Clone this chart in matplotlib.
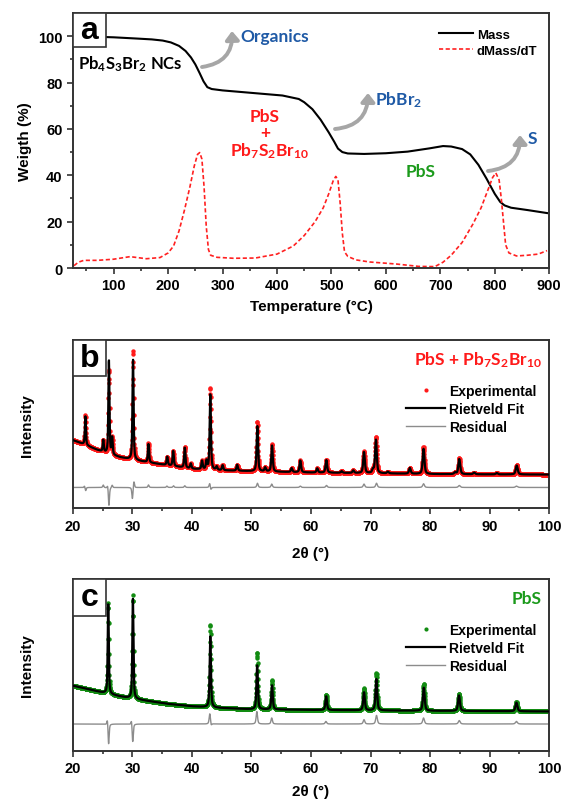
import numpy as np
import matplotlib
matplotlib.use("Agg")
import matplotlib.pyplot as plt
from matplotlib.patches import FancyArrowPatch, Rectangle
from matplotlib.lines import Line2D

plt.rcParams['font.family'] = ['Liberation Sans', 'DejaVu Sans']
plt.rcParams['font.weight'] = 'bold'
plt.rcParams['mathtext.fontset'] = 'custom'
plt.rcParams['mathtext.rm'] = 'Lato:bold'
plt.rcParams['mathtext.default'] = 'rm'

# ---- panel a: TGA ----
mass_T = [30, 60, 100, 140, 170, 190, 205, 220, 232, 242, 250, 258, 265, 272, 280, 300, 340, 380,
          410, 440, 450, 465, 480, 495, 505, 512, 520, 530, 560, 600, 640, 680, 705, 720, 740,
          755, 770, 785, 800, 810, 818, 830, 860, 896]
mass_w = [100, 99.8, 99.5, 99, 98.6, 98.1, 97.3, 95.8, 93.6, 90.8, 87.8, 84, 80.5, 78, 77.2, 76.6,
          75.8, 75.0, 74.4, 72.9, 71.5, 68.5, 64, 58.5, 54.5, 51.5, 50, 49.4, 49.2, 49.5, 50.2,
          51.6, 52.6, 52.4, 51.3, 49, 44.5, 38.5, 32, 28.5, 27, 26, 25, 23.7]

dm_T = [27, 35, 45, 70, 100, 130, 160, 185, 200, 210, 220, 230, 240, 248, 254, 258, 262, 266,
        270, 274, 278, 290, 320, 360, 400, 430, 450, 470, 485, 495, 503, 508, 512, 516, 520,
        524, 530, 545, 570, 620, 660, 690, 705, 720, 740, 760, 775, 788, 796, 802, 808, 812,
        816, 820, 826, 840, 860, 880, 896]
dm_v = [1, 2.5, 3.3, 3.3, 3.8, 4.9, 4, 4.5, 6.5, 9.5, 16, 25, 35, 44, 49, 49.8, 47, 35,
        18, 8, 5.5, 4.6, 4.2, 4.3, 6, 9.5, 14, 20, 26, 32, 37.5, 39.5, 38, 28, 15,
        7, 5, 3.5, 2.6, 1.7, 0.7, 0.6, 2.5, 5.5, 11, 19, 26, 34, 39, 41, 38, 30,
        20, 10, 6.5, 5.2, 5.5, 6, 7.5]

# ---- panel b: PbS + Pb7S2Br10 ----
bg_b_x = [20, 22, 24, 26, 28, 30, 33, 36, 40, 45, 50, 60, 70, 80, 90, 100]
bg_b_y = [40.5, 37.8, 34.8, 32.2, 30.2, 28.8, 27.0, 25.5, 23.4, 22.5, 22.0, 21.2, 20.8, 20.3, 20.1, 20.0]
pk_b_pos = [22.1, 25.1, 26.05, 26.6, 30.1, 32.7, 35.85, 36.85, 38.8, 39.8, 41.7, 42.45, 43.08,
            44.15, 45.15, 47.6, 50.98, 52.3, 53.45, 56.75, 58.2, 61.05, 62.57, 65.15, 67.1,
            68.9, 70.4, 70.9, 72.9, 76.6, 78.9, 84.2, 84.9, 87.4, 91.2, 94.55]
pk_b_obs = [18, 7, 50, 10, 65, 11.5, 5, 9, 12.5, 3, 5, 5, 49, 2, 3, 3.5, 29.6, 2.3, 16.5, 2.3,
            7, 2.5, 7.8, 1, 1.5, 13, 2, 21.8, 1, 3.4, 16, 1, 9.5, 1, 0.8, 5.5]
pk_b_fit = [17, 7, 56, 10, 60, 11, 5, 9, 12, 3, 5, 5, 45, 2, 3, 3.5, 27, 2.3, 15.5, 2.3,
            7, 2.5, 7.5, 1, 1.5, 12.5, 2, 20, 1, 3.4, 15, 1, 9, 1, 0.8, 5.3]
res_b_base = 12.3
res_b_pos = [21.95, 22.15, 25.1, 25.85, 26.05, 26.6, 30.0, 30.25, 32.7, 35.8, 36.9, 38.8,
             43.0, 43.15, 51.0, 53.4, 58.2, 62.6, 68.9, 71.0, 78.9, 84.9, 94.5]
res_b_amp = [1, -2, 1.5, 2, -11, 1.5, -7, 4, 1.5, 0.8, 1, 1, 3, -2, 2.5, 2, 0.8, 1.2, 2,
             2.5, 2.2, 1.2, 0.8]

# ---- panel c: PbS ----
bg_c_x = [20, 22, 24, 26, 28, 30, 33, 36, 40, 45, 50, 60, 70, 80, 90, 100]
bg_c_y = [38, 36.4, 34.8, 33.2, 31.7, 30.5, 28.9, 27.4, 26.0, 25.0, 24.3, 23.9, 23.6, 23.4, 23.2, 23.0]
pk_c_pos = [25.94, 30.08, 43.08, 50.95, 53.45, 62.55, 68.9, 70.97, 78.94, 84.85, 94.5]
pk_c_obs = [53, 60, 48, 33, 17.3, 9, 12.8, 22, 15.7, 10, 5.3]
pk_c_fit = [52, 58, 41.5, 25.6, 14, 8, 10.5, 18.3, 13.4, 9, 5]
res_c_base = 15.7
res_c_pos = [25.8, 26.0, 29.85, 30.05, 43.0, 43.2, 50.9, 53.4, 62.5, 68.9, 71.0, 78.9, 84.9, 94.5]
res_c_amp = [3.5, -12, 3, -10.7, 6.3, -1.5, 7.2, 3.5, 1.5, 2.5, 5, 3.5, 2, 1.5]

tth = np.arange(20, 100.001, 0.03)


def peaks(x, pos, amp):
    y = np.zeros_like(x)
    for p, h in zip(pos, amp):
        w = 0.2 + 0.0025 * (p - 20)
        g = 0.5 * w
        y += h * (0.55 * g ** 2 / ((x - p) ** 2 + g ** 2)
                  + 0.45 * np.exp(-4 * np.log(2) * (x - p) ** 2 / w ** 2))
    return y


edge = '#333333'
fig = plt.figure(figsize=(5.65, 8.03), dpi=100)


def style(ax):
    for s in ax.spines.values():
        s.set_linewidth(1.4)
        s.set_color(edge)
    ax.tick_params(which='both', direction='out', width=1.2, color=edge, labelsize=10.5)
    ax.tick_params(which='major', length=4)
    ax.tick_params(which='minor', length=2.5)
    for lab in ax.get_xticklabels() + ax.get_yticklabels():
        lab.set_fontweight('bold')


def letter(ax, s, h):
    ax.add_patch(Rectangle((0, 1 - h), 0.069, h, transform=ax.transAxes, fill=True,
                           facecolor='white', edgecolor=edge, lw=1.2, zorder=5))
    ax.text(0.0345, 1 - h / 2, s, transform=ax.transAxes, ha='center', va='center',
            fontsize=23, fontweight='bold', zorder=6)


def arrow(ax, p0, p1):
    ax.add_patch(FancyArrowPatch(p0, p1, transform=fig.transFigure, connectionstyle='arc3,rad=0.45',
                                 arrowstyle='-|>,head_width=4,head_length=5', color='#a6a6a6',
                                 lw=2.8, shrinkA=0, shrinkB=0, zorder=4))


def fx(px):
    return px / 565


def fy(py):
    return 1 - py / 803


# ---- panel a ----
ax = fig.add_axes([0.129, 0.665, 0.843, 0.3176])
ax.plot(mass_T, mass_w, color='black', lw=1.5)
ax.plot(dm_T, dm_v, color='#ff2020', lw=1.2, dashes=(2.5, 1.5))
ax.set_xlim(25, 900)
ax.set_ylim(0, 110)
ax.set_xticks(range(100, 901, 100))
ax.set_xticks(range(50, 901, 50), minor=True)
ax.set_yticks(range(0, 101, 20))
ax.set_yticks(range(10, 101, 20), minor=True)
ax.set_xlabel('Temperature (°C)', fontsize=11, fontweight='bold', labelpad=5)
ax.set_ylabel('Weigth (%)', fontsize=11, fontweight='bold', labelpad=4)
style(ax)
letter(ax, 'a', 0.133)
ax.legend(handles=[Line2D([], [], color='black', lw=1.5),
                   Line2D([], [], color='#ff2020', lw=1.2, dashes=(2.5, 1.5))],
          labels=['Mass', 'dMass/dT'], loc='upper right', bbox_to_anchor=(1.0, 0.985),
          frameon=False, handlelength=2.6, handletextpad=0.3, labelspacing=0.3,
          prop={'weight': 'bold', 'size': 9.5})
ann = dict(fontsize=12.5, fontweight='bold', family='Lato')
fig.text(fx(78), fy(64), r'Pb$_4$S$_3$Br$_2$ NCs', color='black', va='center', ha='left',
         fontsize=12, fontweight='bold', family='Lato')
fig.text(fx(240), fy(37), 'Organics', color='#1f5aa6', va='center', ha='left', **ann)
fig.text(fx(375), fy(100), r'PbBr$_2$', color='#1f5aa6', va='center', ha='left', **ann)
fig.text(fx(528), fy(139), 'S', color='#1f5aa6', va='center', ha='left', **ann)
fig.text(fx(265), fy(117), 'PbS', color='#ff1a1a', va='center', ha='center', **ann)
fig.text(fx(265), fy(133), '+', color='#ff1a1a', va='center', ha='center', **ann)
fig.text(fx(270), fy(151), r'Pb$_7$S$_2$Br$_{10}$', color='#ff1a1a', va='center', ha='center', **ann)
fig.text(fx(421), fy(172), 'PbS', color='#1b9a1b', va='center', ha='center', **ann)
arrow(ax, (fx(202), fy(68)), (fx(232), fy(32)))
arrow(ax, (fx(335), fy(130)), (fx(368), fy(94)))
arrow(ax, (fx(488), fy(172)), (fx(520), fy(136)))


def xrd(rect, bg_x, bg_y, pos, obs, fit, rbase, rpos, ramp, dot, lab, labcol, let, xpad):
    ax = fig.add_axes(rect)
    bg = np.interp(tth, bg_x, bg_y)
    y_obs = bg + peaks(tth, pos, obs)
    y_fit = bg + peaks(tth, pos, fit)
    y_res = rbase + peaks(tth, rpos, ramp)
    ax.plot(tth, y_obs, 'o', ms=3.2, mew=0, color=dot, zorder=2)
    ax.plot(tth, y_fit, color='black', lw=1.6, zorder=3)
    ax.plot(tth, y_res, color='#8c8c8c', lw=1.0, zorder=2)
    ax.set_xlim(20, 100)
    ax.set_ylim(0, 100)
    ax.set_xticks(range(20, 101, 10))
    ax.set_xticks(range(25, 100, 10), minor=True)
    ax.set_yticks([])
    ax.set_xlabel('2θ (°)', fontsize=11, fontweight='bold', labelpad=xpad)
    ax.set_ylabel('Intensity', fontsize=11, fontweight='bold', labelpad=28)
    style(ax)
    letter(ax, let, 0.214)
    ax.text(0.985, 0.89, lab, transform=ax.transAxes, ha='right', va='center', color=labcol,
            fontsize=12.5, fontweight='bold', family='Lato')
    ax.legend(handles=[Line2D([], [], ls='none', marker='o', ms=3, mew=0, color=dot),
                       Line2D([], [], color='black', lw=1.6),
                       Line2D([], [], color='#8c8c8c', lw=1.0)],
              labels=['Experimental', 'Rietveld Fit', 'Residual'], loc='upper right',
              bbox_to_anchor=(1.0, 0.815), frameon=False, handlelength=2.8, handletextpad=0.3,
              labelspacing=0.28, prop={'weight': 'bold', 'size': 10})
    return ax


xrd([0.129, 0.366, 0.843, 0.209], bg_b_x, bg_b_y, pk_b_pos, pk_b_obs, pk_b_fit,
    res_b_base, res_b_pos, res_b_amp, '#ff1a1a', r'PbS + Pb$_7$S$_2$Br$_{10}$', '#ff1a1a', 'b', 10)
xrd([0.129, 0.0635, 0.843, 0.2142], bg_c_x, bg_c_y, pk_c_pos, pk_c_obs, pk_c_fit,
    res_c_base, res_c_pos, res_c_amp, '#128c12', 'PbS', '#1b9a1b', 'c', 6)

fig.savefig('out.png', dpi=100)
